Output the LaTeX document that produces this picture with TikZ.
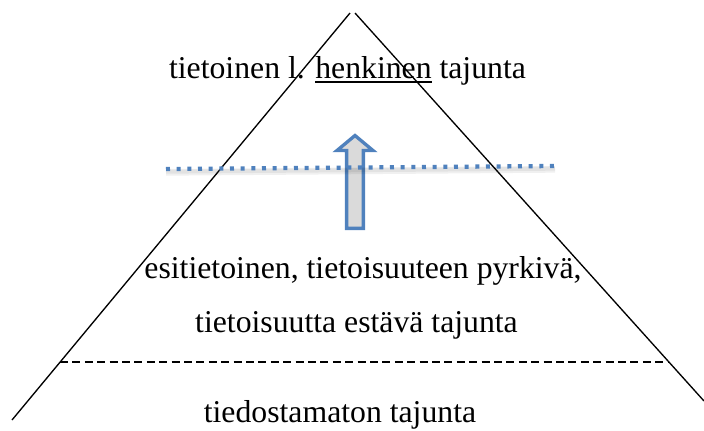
\documentclass[tikz,border=0pt]{standalone}
\usepackage{fontspec}
\setmainfont{Liberation Serif}
\definecolor{officeblue}{RGB}{79,129,189}
\definecolor{shaftgray}{RGB}{218,218,218}
% underline drawn as a rule at a fixed depth below the baseline
\newcommand\ulword[1]{\leavevmode\setbox0\hbox{#1}\rlap{\rule[-3.8pt]{\wd0}{1.4pt}}\box0\relax}
\tikzset{
  side/.style={line width=1pt, black},
  layerline/.style={line width=1.1pt, dash pattern=on 6pt off 3.3pt},
  label/.style={font=\fontsize{23.8}{28}\selectfont, anchor=base, inner sep=0pt},
  threshold/.style={officeblue, line width=3.2pt, dash pattern=on 3pt off 5pt},
  thresholdshadow/.style={black, opacity=0.06, line width=5pt},
  risearrow/.style={draw=officeblue, fill=shaftgray, line width=2.5pt, line join=miter},
}
\begin{document}
\begin{tikzpicture}[x=0.75pt, y=-0.75pt]
  \useasboundingbox (0,0) rectangle (704,430);

  % pyramid sides
  \coordinate (apexL) at (350,13);
  \coordinate (baseL) at (12,420);
  \coordinate (apexR) at (355,13);
  \coordinate (baseR) at (704,401);
  \draw[side] (apexL) -- (baseL);
  \draw[side] (apexR) -- (baseR);

  % boundary to the unconscious layer
  \coordinate (layerL) at (60,362);
  \coordinate (layerR) at (668,362);
  \draw[layerline] (layerL) -- (layerR);

  % upward block arrow
  \draw[risearrow] (355,135.5) -- (373,150.5) -- (363.4,150.5) -- (363.4,228.4)
        -- (346.6,228.4) -- (346.6,150.5) -- (337,150.5) -- cycle;

  % threshold of consciousness, with a soft shadow below it
  \coordinate (thrL) at (166,169);
  \coordinate (thrR) at (555,166);
  \draw[thresholdshadow] ([yshift=-2.5pt]thrL) -- ([yshift=-2.5pt]thrR);
  \draw[thresholdshadow, line width=3pt] ([yshift=-2pt]thrL) -- ([yshift=-2pt]thrR);
  \draw[threshold] (thrL) -- (thrR);

  % labels
  \node[label] (conscious) at (347.5,78) {tietoinen l. \ulword{henkinen} tajunta};
  \node[label] (preconsciousA) at (363,278) {esitietoinen, tietoisuuteen pyrkivä,};
  \node[label] (preconsciousB) at (356.5,332) {tietoisuutta estävä tajunta};
  \node[label] (unconscious) at (340,422) {tiedostamaton tajunta};
\end{tikzpicture}
\end{document}
